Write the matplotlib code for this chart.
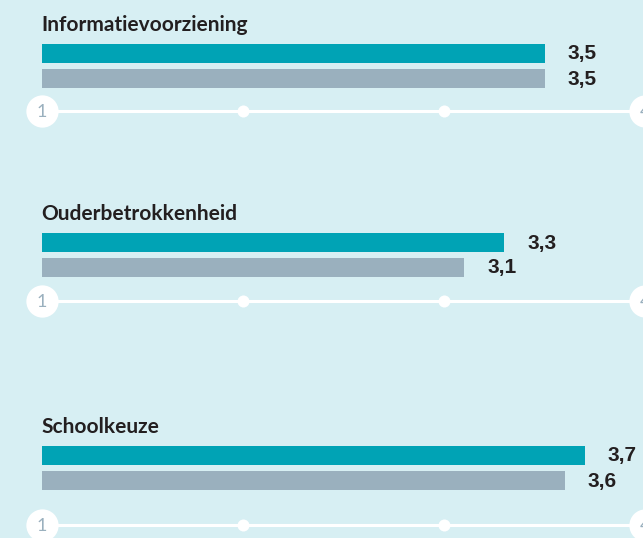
import matplotlib.pyplot as plt

# Data
categories = ["Informatievoorziening", "Ouderbetrokkenheid", "Schoolkeuze"]
school = [3.5, 3.3, 3.7]
benchmark = [3.5, 3.1, 3.6]
ticks = [1, 2, 3, 4]

# Layout (y in pixels from top)
title_y = [25, 214, 427]
axis_y = [111, 301, 525]
bg = "#d7eff3"
teal = "#00a3b5"
grey = "#9ab0be"
dark = "#231f20"

plt.rcParams['font.family'] = ['Lato', 'DejaVu Sans']

fig = plt.figure(figsize=(6.43, 5.38), dpi=100, facecolor=bg)
ax = fig.add_axes([0, 0, 1, 1])
ax.set_facecolor(bg)
px = 201.0  # pixels per unit
ax.set_xlim(1 - 42 / px, 1 + (643 - 42) / px)
ax.set_ylim(538, 0)
ax.axis("off")

for i, cat in enumerate(categories):
    ty = title_y[i]
    ax.text(1 - 1 / px, ty, cat, fontsize=15, fontweight="bold", color=dark,
            va="center", ha="left")
    y1, y2 = ty + 28, ty + 53
    ax.barh(y1, school[i] - 1, left=1, height=19, color=teal)
    ax.barh(y2, benchmark[i] - 1, left=1, height=19, color=grey)
    for y, v in ((y1, school[i]), (y2, benchmark[i])):
        ax.text(v + 23 / px, y + 1, f"{v:.1f}".replace(".", ","), fontsize=15,
                fontweight="bold", color=dark, va="center", ha="left",
                family="Liberation Sans")
    ay = axis_y[i]
    ax.plot([ticks[0], ticks[-1]], [ay, ay], color="white", lw=2.2, zorder=1)
    ax.scatter(ticks[1:-1], [ay] * 2, s=75, color="white", zorder=2, lw=0)
    ax.scatter([ticks[0], ticks[-1]], [ay] * 2, s=540, color="white", zorder=2, lw=0)
    for t in (ticks[0], ticks[-1]):
        ax.text(t, ay + 1, str(t), fontsize=13, color=grey, ha="center",
                va="center", zorder=3)

fig.savefig("out.png", dpi=100, facecolor=bg)
